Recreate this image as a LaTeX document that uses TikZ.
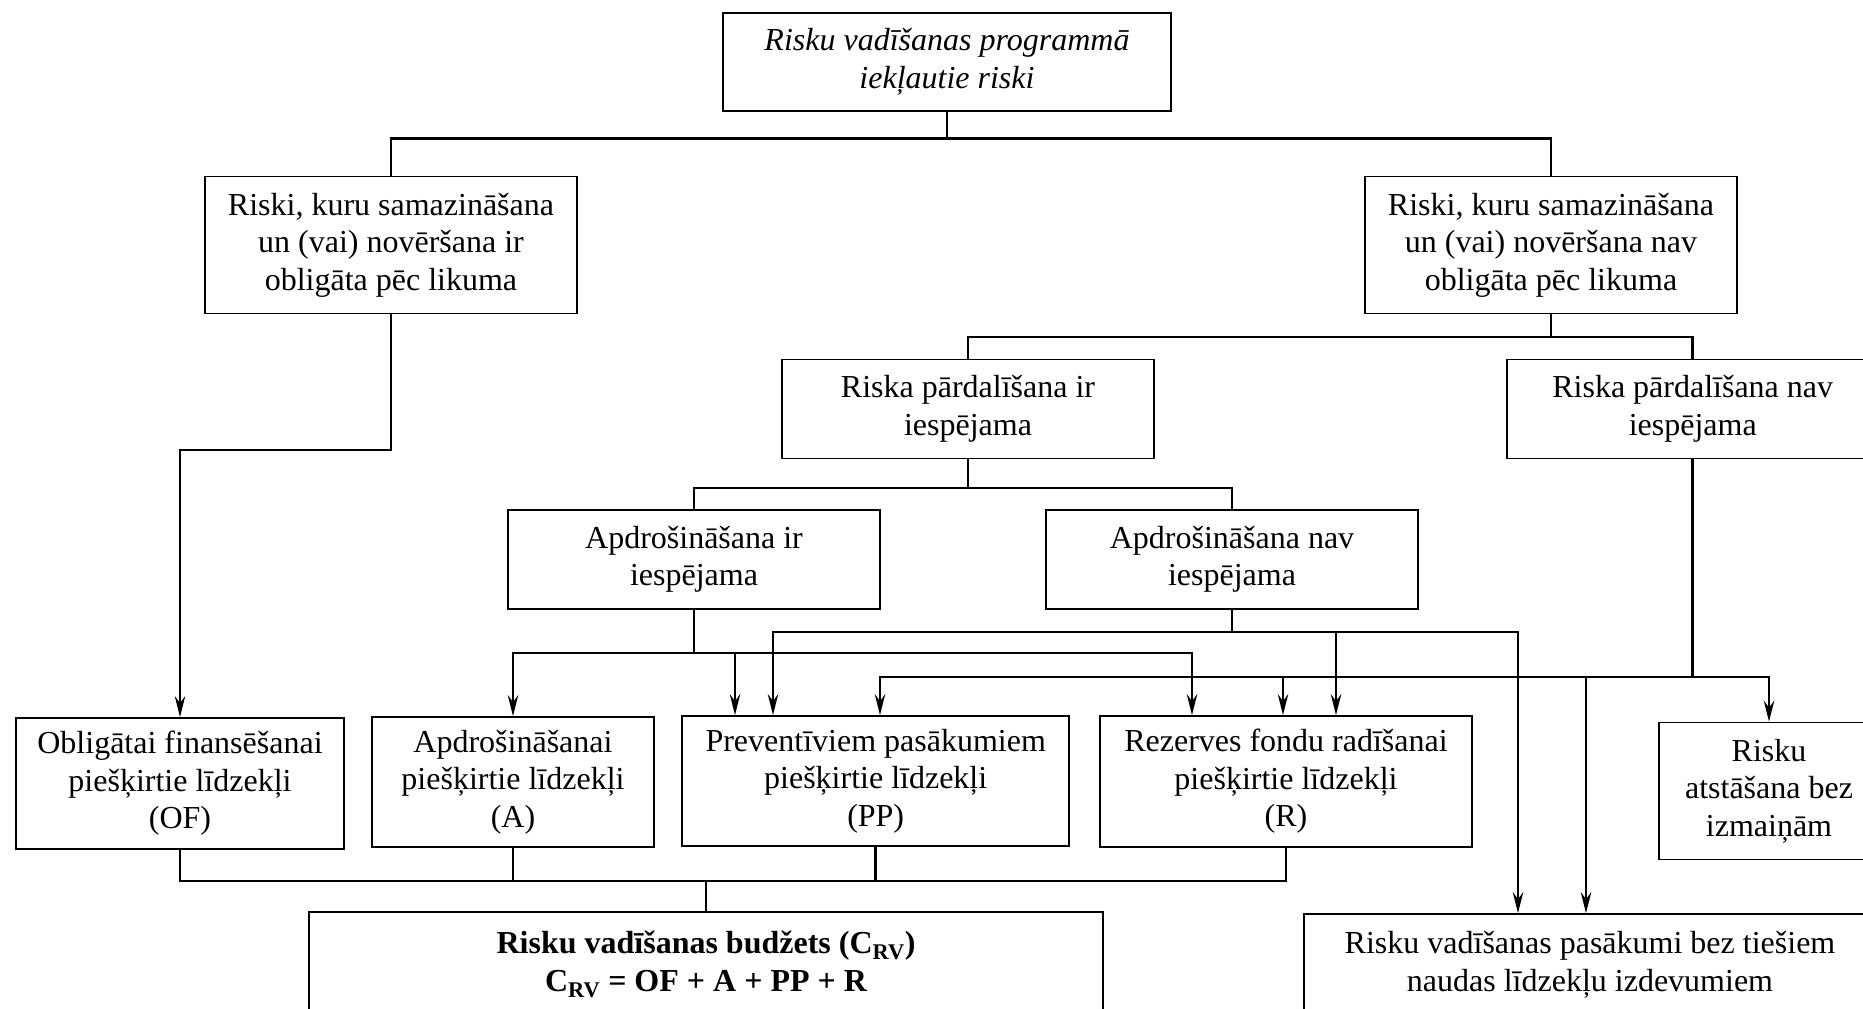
\documentclass[tikz,border=0pt]{standalone}
\usepackage{fontspec}
\setmainfont{Liberation Serif}
\usetikzlibrary{arrows.meta}
\begin{document}
\begin{tikzpicture}[x=1pt,y=-1pt,
  box/.style={draw, line width=1.8pt, inner sep=0pt, align=center,
    font=\fontsize{32}{37.5}\selectfont},
  link/.style={line width=2.6pt},
  tipS/.tip={Stealth[length=21pt,width=10.5pt,inset=7pt]},
  drop/.style={line width=2.1pt, -tipS},
  dropboth/.style={line width=2.1pt, tipS-tipS},
]
\useasboundingbox (0,0) rectangle (1863,1009);
\fill[white] (0,0) rectangle (1863,1009);
\clip (0,0) rectangle (1863,1009);

% levels of the horizontal buses
\coordinate (lv1) at (0,138.5);
\coordinate (lv2) at (0,337);
\coordinate (lv3) at (0,488);
\coordinate (lvL) at (0,450);
\coordinate (lvB) at (0,632.3);
\coordinate (lvA) at (0,653.3);
\coordinate (lvC) at (0,677.3);
\coordinate (lvBot) at (0,881);
% columns of the arrow drops
\coordinate (xPPa) at (735,0);
\coordinate (xPPb) at (773,0);
\coordinate (xPPc) at (880,0);
\coordinate (xRa) at (1192,0);
\coordinate (xRb) at (1336,0);
\coordinate (xRc) at (1283,0);
\coordinate (xBRa) at (1518,0);
\coordinate (xBRb) at (1586,0);

% boxes
\node[box, minimum width=448pt, minimum height=98pt,
  font=\fontsize{32}{37.5}\selectfont\itshape] (T) at (947,62)
  {Risku vadīšanas programmā\\iekļautie riski};
\node[box, minimum width=372pt, minimum height=137pt] (L1) at (391,245)
  {Riski, kuru samazināšana\\un (vai) novēršana ir\\obligāta pēc likuma};
\node[box, minimum width=372pt, minimum height=137pt] (R1) at (1551,245)
  {Riski, kuru samazināšana\\un (vai) novēršana nav\\obligāta pēc likuma};
\node[box, minimum width=372pt, minimum height=99pt] (Pir) at (968,409)
  {Riska pārdalīšana ir\\iespējama};
\node[box, minimum width=372pt, minimum height=99pt] (Pnav) at (1692.7,409)
  {Riska pārdalīšana nav\\iespējama};
\node[box, minimum width=372pt, minimum height=99pt] (Air) at (694,559.5)
  {Apdrošināšana ir\\iespējama};
\node[box, minimum width=372pt, minimum height=99pt] (Anair) at (1232,559.5)
  {Apdrošināšana nav\\iespējama};
\node[box, minimum width=328pt, minimum height=131pt] (OF) at (180,783.5)
  {Obligātai finansēšanai\\piešķirtie līdzekļi\\(OF)};
\node[box, minimum width=282pt, minimum height=130pt] (A) at (513,782)
  {Apdrošināšanai\\piešķirtie līdzekļi\\(A)};
\node[box, minimum width=387pt, minimum height=130pt] (PP) at (875.7,781)
  {Preventīviem pasākumiem\\piešķirtie līdzekļi\\(PP)};
\node[box, minimum width=372pt, minimum height=131pt] (R) at (1286,781.5)
  {Rezerves fondu radīšanai\\piešķirtie līdzekļi\\(R)};
\node[box, minimum width=220pt, minimum height=137pt] (RA) at (1769,791)
  {Risku\\atstāšana bez\\izmaiņām};
\node[box, minimum width=794pt, minimum height=105pt,
  font=\fontsize{32}{37.5}\selectfont\bfseries] (Bud) at (706,964.5)
  {Risku vadīšanas budžets (C\textsubscript{RV})\\C\textsubscript{RV} = OF + A + PP + R};
\node[box, minimum width=572pt, minimum height=102pt] (BR) at (1590,965)
  {Risku vadīšanas pasākumi bez tiešiem\\naudas līdzekļu izdevumiem};

% upper tree
\draw[link] (T.south) -- (T.south |- lv1);
\draw[link] (L1.north) -- (L1.north |- lv1) -- (R1.north |- lv1) -- (R1.north);
\draw[link] (R1.south) -- (R1.south |- lv2);
\draw[link] (Pir.north) -- (Pir.north |- lv2) -- (Pnav.north |- lv2) -- (Pnav.north);
\draw[link] (Pir.south) -- (Pir.south |- lv3);
\draw[link] (Air.north) -- (Air.north |- lv3) -- (Anair.north |- lv3) -- (Anair.north);
\draw[drop] (L1.south) -- (L1.south |- lvL) -- (OF.north |- lvL) -- (OF.north);

% insurance possible
\draw[link] (Air.south) -- (Air.south |- lvA);
\draw[dropboth] (A.north) -- (A.north |- lvA) -- (xRa |- lvA) -- (xRa |- R.north);
\draw[drop] (xPPa |- lvA) -- (xPPa |- PP.north);

% insurance not possible
\draw[link] (Anair.south) -- (Anair.south |- lvB);
\draw[dropboth] (xPPb |- PP.north) -- (xPPb |- lvB) -- (xBRa |- lvB) -- (xBRa |- BR.north);
\draw[drop] (xRb |- lvB) -- (xRb |- R.north);

% risk transfer not possible
\draw[link] (Pnav.south) -- (Pnav.south |- lvC);
\draw[dropboth] (xPPc |- PP.north) -- (xPPc |- lvC) -- (RA.north |- lvC) -- (RA.north);
\draw[drop] (xRc |- lvC) -- (xRc |- R.north);
\draw[drop] (xBRb |- lvC) -- (xBRb |- BR.north);

% budget collection
\draw[link] (OF.south) -- (OF.south |- lvBot) -- (R.south |- lvBot) -- (R.south);
\draw[link] (A.south) -- (A.south |- lvBot);
\draw[link] (PP.south) -- (PP.south |- lvBot);
\draw[link] (Bud.north |- lvBot) -- (Bud.north);
\end{tikzpicture}
\end{document}
